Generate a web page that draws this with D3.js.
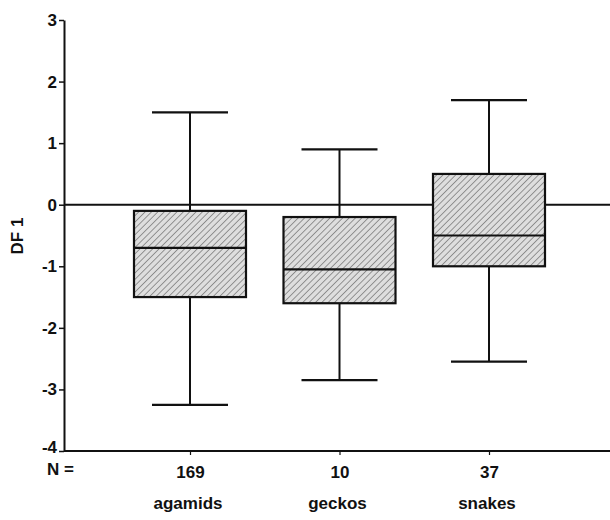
<!DOCTYPE html>
<html><head><meta charset="utf-8">
<script src="https://cdn.jsdelivr.net/npm/d3@7/dist/d3.min.js"></script>
<style>body{margin:0;background:#fff}svg{display:block}text{font-family:"Liberation Sans",Arial,sans-serif;fill:#111}</style>
</head><body>
<svg id="c" width="610" height="520"></svg>
<script>
const categories = ["agamids","geckos","snakes"];
const counts = [169, 10, 37];
const whiskerLow = [-3.25, -2.85, -2.55];
const q1 = [-1.5, -1.6, -1.0];
const median = [-0.7, -1.05, -0.5];
const q3 = [-0.1, -0.2, 0.5];
const whiskerHigh = [1.5, 0.9, 1.7];
const yTicks = [3,2,1,0,-1,-2,-3,-4];

const svg = d3.select("#c");
const y = d3.scaleLinear().domain([-4,3]).range([451,20]);
const x = d3.scalePoint().domain(categories).range([190,489]);
const boxW = 112, capW = 76;
const FF = "Liberation Sans, Arial, sans-serif";

const defs = svg.append("defs");
const pat = defs.append("pattern").attr("id","hatch").attr("patternUnits","userSpaceOnUse")
  .attr("width",4.5).attr("height",4.5).attr("patternTransform","rotate(45)");
pat.append("rect").attr("width",4.5).attr("height",4.5).attr("fill","#dedede");
pat.append("line").attr("x1",0).attr("y1",0).attr("x2",0).attr("y2",4.5)
  .attr("stroke","#606060").attr("stroke-width",1.2);

// y axis
const yAxis = svg.append("g").attr("transform","translate(64,0)")
  .call(d3.axisLeft(y).tickValues(yTicks).tickFormat(d=>String(d)).tickSize(5).tickSizeOuter(0));
yAxis.select(".domain").attr("stroke","#111").attr("stroke-width",2);
yAxis.selectAll(".tick line").attr("stroke","#111").attr("stroke-width",1.5);
yAxis.selectAll(".tick text").attr("font-size",17).attr("font-weight","bold").attr("x",-7)
  .style("font-family",FF).attr("fill","#111")
  .attr("dy",d=>d===-4?"0.1em":"0.32em");

svg.append("text").attr("transform","translate(23,236) rotate(-90)")
  .attr("text-anchor","middle").attr("font-size",17).attr("font-weight","bold").text("DF 1");

// zero reference line
svg.append("line").attr("x1",64).attr("x2",610).attr("y1",y(0)).attr("y2",y(0))
  .attr("stroke","#111").attr("stroke-width",2);

// bottom axis
const xAxis = svg.append("g").attr("transform","translate(0,"+y(-4)+")")
  .call(d3.axisBottom(x).tickSize(4).tickSizeOuter(0).tickFormat((d,i)=>counts[i]));
xAxis.select(".domain").attr("d","M64,0H610").attr("stroke","#111").attr("stroke-width",2);
xAxis.selectAll(".tick line").attr("stroke","#111").attr("stroke-width",1.2).attr("y2",4);
xAxis.selectAll(".tick text").attr("font-size",17).attr("font-weight","bold")
  .attr("y",27).attr("dy",0)
  .style("font-family",FF).attr("fill","#111");
svg.append("text").attr("x",47).attr("y",475).attr("font-size",17).attr("font-weight","bold").text("N =");
svg.selectAll(".cat").data(categories).join("text").attr("class","cat")
  .attr("x",d=>x(d)-2).attr("y",509).attr("text-anchor","middle")
  .attr("font-size",17).attr("font-weight","bold").text(d=>d);

// boxes
const g = svg.selectAll(".box").data(categories).join("g").attr("class","box");
g.append("line").attr("x1",d=>x(d)).attr("x2",d=>x(d))
  .attr("y1",(d,i)=>y(whiskerHigh[i])).attr("y2",(d,i)=>y(q3[i])).attr("stroke","#111").attr("stroke-width",2);
g.append("line").attr("x1",d=>x(d)).attr("x2",d=>x(d))
  .attr("y1",(d,i)=>y(q1[i])).attr("y2",(d,i)=>y(whiskerLow[i])).attr("stroke","#111").attr("stroke-width",2);
g.append("line").attr("x1",d=>x(d)-capW/2).attr("x2",d=>x(d)+capW/2)
  .attr("y1",(d,i)=>y(whiskerHigh[i])).attr("y2",(d,i)=>y(whiskerHigh[i])).attr("stroke","#111").attr("stroke-width",2.2);
g.append("line").attr("x1",d=>x(d)-capW/2).attr("x2",d=>x(d)+capW/2)
  .attr("y1",(d,i)=>y(whiskerLow[i])).attr("y2",(d,i)=>y(whiskerLow[i])).attr("stroke","#111").attr("stroke-width",2.2);
g.append("rect").attr("x",d=>x(d)-boxW/2).attr("width",boxW)
  .attr("y",(d,i)=>y(q3[i])).attr("height",(d,i)=>y(q1[i])-y(q3[i]))
  .attr("fill","url(#hatch)").attr("stroke","#111").attr("stroke-width",2.2);
g.append("line").attr("x1",d=>x(d)-boxW/2).attr("x2",d=>x(d)+boxW/2)
  .attr("y1",(d,i)=>y(median[i])).attr("y2",(d,i)=>y(median[i])).attr("stroke","#111").attr("stroke-width",2.2);
</script>
</body></html>
